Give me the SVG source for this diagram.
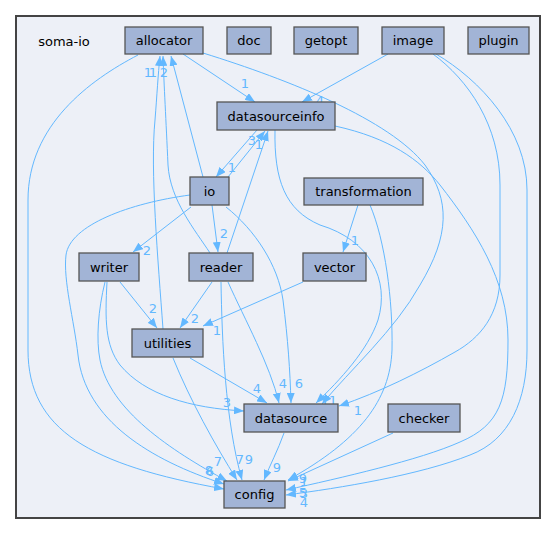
<svg xmlns="http://www.w3.org/2000/svg" width="556" height="535" viewBox="0 0 556 535">
<defs>
<marker id="ah" markerUnits="userSpaceOnUse" markerWidth="11" markerHeight="8" refX="10" refY="4" orient="auto">
<path d="M0,0 L10,4 L0,8 z" fill="#63b8ff"/>
</marker>
<style>
.n rect{fill:#a2b4d6;stroke:#555;stroke-width:1.3}
.n text{font-family:"DejaVu Sans",sans-serif;font-size:13px;text-anchor:middle;fill:#000}
.e path{fill:none;stroke:#63b8ff;stroke-width:1;marker-end:url(#ah)}
.l text{font-family:"DejaVu Sans",sans-serif;font-size:13px;text-anchor:middle;fill:#63b8ff}
</style>
</defs>
<rect x="0" y="0" width="556" height="535" fill="#fff"/>
<g id="cluster">
<rect x="16" y="16" width="524" height="502" fill="#edf0f7" stroke="#444" stroke-width="2"/>
<text x="64" y="45.5" font-family="DejaVu Sans,sans-serif" font-size="13" text-anchor="middle">soma-io</text>
</g>
<g class="e" id="connectors">
<path d="M183,54 L255,102"/>
<path d="M203,53 C290,80 390,120 425,165 C450,200 450,235 420,285 C395,330 350,370 322,404"/>
<path d="M275,130 C274,180 285,210 320,225 C370,240 390,280 378,320 C368,350 340,380 316,403"/>
<path d="M335,126 C390,138 420,160 440,185 C475,230 508,280 508,340 C508,400 500,425 460,442 C420,460 340,478 286,490"/>
<path d="M433,54 C468,80 500,125 500,185 L500,275 C500,315 480,338 455,352 C420,372 380,392 339,406"/>
<path d="M436,54 C480,80 527,130 527,190 L527,350 C527,400 510,440 470,455 C420,475 340,488 286,495"/>
<path d="M388,54 L302,102"/>
<path d="M393,433 L288,481"/>
<path d="M370,205 C385,240 393,300 392,350 C390,400 360,440 288,480"/>
<path d="M284,433 C278,450 270,465 264,480"/>
<path d="M138,55 C90,80 28,125 28,200 L28,350 C28,430 90,465 224,489"/>
<path d="M190,195 C130,203 70,225 66,255 C63,280 74,320 78,355 C85,420 150,460 224,484"/>
<path d="M105,282 C98,310 96,340 100,360 C110,410 170,450 227,481"/>
<path d="M107,282 C105,320 105,345 120,365 C145,395 190,408 244,411"/>
<path d="M120,282 L157,328"/>
<path d="M163,329 C158,260 150,170 155,120 C157,95 158,75 160,56"/>
<path d="M210,253 C195,230 170,200 168,165 C166,120 164,85 163,56"/>
<path d="M203,177 L171,56"/>
<path d="M228,177 L265,131"/>
<path d="M257,130 L216,177"/>
<path d="M227,253 L268,131"/>
<path d="M191,207 L133,252"/>
<path d="M212,205 L218,252"/>
<path d="M226,207 C255,230 278,265 283,300 C288,340 290,370 291,403"/>
<path d="M228,282 C245,320 270,365 279,403"/>
<path d="M212,282 L180,328"/>
<path d="M221,282 C222,340 225,420 242,480"/>
<path d="M173,358 C190,400 215,445 237,480"/>
<path d="M190,358 L267,403"/>
<path d="M303,282 L203,326"/>
<path d="M358,205 L343,252"/>
</g>
<g class="l" id="labels">
<text x="245" y="88">1</text>
<text x="320" y="105">4</text>
<text x="148" y="77">1</text>
<text x="153" y="77">1</text>
<text x="164" y="77">2</text>
<text x="252" y="145">3</text>
<text x="259" y="149">1</text>
<text x="232" y="172">1</text>
<text x="147" y="255">2</text>
<text x="224" y="238">2</text>
<text x="153" y="313">2</text>
<text x="195" y="323">2</text>
<text x="217" y="335">1</text>
<text x="355" y="245">1</text>
<text x="227" y="407">3</text>
<text x="257" y="393">4</text>
<text x="283" y="388">4</text>
<text x="299" y="388">6</text>
<text x="325" y="405">1</text>
<text x="333" y="405">1</text>
<text x="358" y="415">1</text>
<text x="209" y="475">8</text>
<text x="210" y="476">6</text>
<text x="218" y="466">7</text>
<text x="240" y="464">7</text>
<text x="249" y="464">9</text>
<text x="277" y="472">9</text>
<text x="303" y="483">9</text>
<text x="304" y="486">1</text>
<text x="303" y="497">5</text>
<text x="304" y="498">3</text>
<text x="304" y="507">4</text>
</g>
<g class="n" id="allocator"><rect x="125" y="27" width="78" height="27"/><text x="164" y="45">allocator</text></g>
<g class="n" id="doc"><rect x="227" y="27" width="44" height="27"/><text x="249" y="45">doc</text></g>
<g class="n" id="getopt"><rect x="294" y="27" width="64" height="27"/><text x="326" y="45">getopt</text></g>
<g class="n" id="image"><rect x="382" y="27" width="62" height="27"/><text x="413" y="45">image</text></g>
<g class="n" id="plugin"><rect x="468" y="27" width="61" height="27"/><text x="498.5" y="45">plugin</text></g>
<g class="n" id="datasourceinfo"><rect x="217" y="102" width="118" height="28"/><text x="276" y="120.5">datasourceinfo</text></g>
<g class="n" id="io"><rect x="190" y="177" width="39" height="28"/><text x="209.5" y="195.5">io</text></g>
<g class="n" id="transformation"><rect x="304" y="178" width="119" height="27"/><text x="363.5" y="196">transformation</text></g>
<g class="n" id="writer"><rect x="79" y="253" width="60" height="28"/><text x="109" y="271.5">writer</text></g>
<g class="n" id="reader"><rect x="189" y="253" width="64" height="28"/><text x="221" y="271.5">reader</text></g>
<g class="n" id="vector"><rect x="303" y="253" width="63" height="28"/><text x="334.5" y="271.5">vector</text></g>
<g class="n" id="utilities"><rect x="132" y="329" width="71" height="28"/><text x="167.5" y="347.5">utilities</text></g>
<g class="n" id="datasource"><rect x="244" y="404" width="94" height="28"/><text x="291" y="422.5">datasource</text></g>
<g class="n" id="checker"><rect x="388" y="404" width="72" height="28"/><text x="424" y="422.5">checker</text></g>
<g class="n" id="config"><rect x="224" y="481" width="61" height="27"/><text x="254.5" y="499">config</text></g>
</svg>
